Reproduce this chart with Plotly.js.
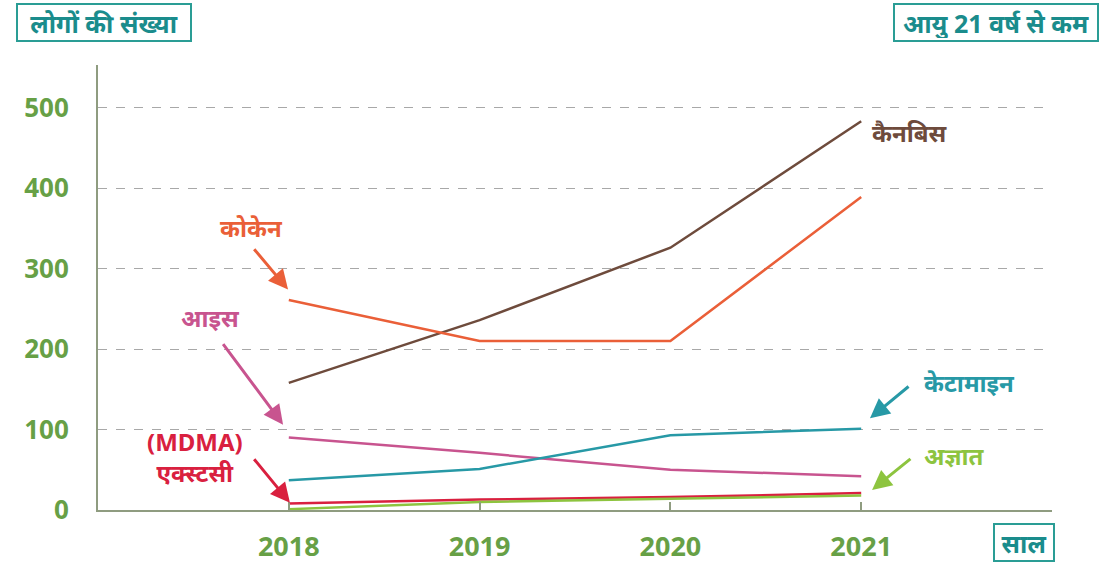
<!DOCTYPE html>
<html>
<head>
<meta charset="utf-8">
<script src="https://cdn.plot.ly/plotly-3.0.1.min.js"></script>
<style>html,body{margin:0;padding:0;background:#fff;}#chart{width:1115px;height:563px;}</style>
</head>
<body>
<div id="chart"></div>
<script>
const years = [2018, 2019, 2020, 2021];
const yearLabels = ['2018', '2019', '2020', '2021'];
const cannabis = [158, 236, 326, 483];
const cocaine = [261, 210, 210, 389];
const ice = [90, 71, 50, 42];
const ketamine = [37, 51, 93, 101];
const mdma = [8, 13, 16, 21];
const unknown = [1, 10, 14, 18];
const yTicks = [0, 100, 200, 300, 400, 500];

const names = ['कैनबिस', 'कोकेन', 'आइस', 'केटामाइन', '(MDMA)<br>एक्स्टसी', 'अज्ञात'];
const colors = ['#6e4b3c', '#ea5f38', '#c8548f', '#2799a6', '#d9203f', '#8dc43f'];
const series = [cannabis, cocaine, ice, ketamine, mdma, unknown];

const FONT = '"Noto Sans", "Open Sans", sans-serif';

const traces = series.map((s, i) => ({
  x: years, y: s, type: 'scatter', mode: 'lines',
  line: {color: colors[i], width: 2.5}, name: names[i], hoverinfo: 'skip'
}));

function label(text, x, y, color) {
  return {text: '<b>' + text + '</b>', x: x, y: y, xref: 'x', yref: 'y', showarrow: false,
    font: {family: FONT, size: 24, color: color}, xanchor: 'center', yanchor: 'middle'};
}
function arrow(tx, ty, hx, hy, color) {
  return {text: '', x: hx, y: hy, ax: tx, ay: ty, xref: 'x', yref: 'y', axref: 'x', ayref: 'y',
    showarrow: true, arrowhead: 2, arrowsize: 1.3, arrowwidth: 3, arrowcolor: color};
}
function box(text, x, y, w) {
  return {text: '<b>' + text + '</b>', x: x, y: y, xref: 'paper', yref: 'paper', showarrow: false,
    width: w, height: 31, align: 'center', valign: 'middle',
    font: {family: FONT, size: 25, color: '#1a8c8c'}, bordercolor: '#2a9d95', borderwidth: 2,
    borderpad: 2, bgcolor: '#fff', xanchor: 'center', yanchor: 'middle'};
}

const annotations = [
  box('लोगों की संख्या', 0.0068, 1.0955, 168),
  box('आयु 21 वर्ष से कम', 0.9408, 1.0955, 198),
  box('साल', 0.9706, -0.073, 54),
  label(names[0], 2021.256, 469, colors[0]),
  label(names[1], 2017.807, 351, colors[1]),
  label(names[2], 2017.587, 239, colors[2]),
  label(names[3], 2021.570, 159, colors[3]),
  label(names[4], 2017.508, 66, colors[4]),
  label(names[5], 2021.490, 68, colors[5]),
  arrow(2017.812, 326, 2017.996, 274, colors[1]),
  arrow(2017.650, 208, 2017.970, 106, colors[2]),
  arrow(2017.812, 65, 2018.006, 9, colors[4]),
  arrow(2021.256, 155, 2021.046, 114, colors[3]),
  arrow(2021.266, 65, 2021.057, 25, colors[5])
];

const layout = {
  width: 1115, height: 563,
  margin: {l: 98, r: 63, t: 65, b: 53},
  paper_bgcolor: '#ffffff', plot_bgcolor: '#ffffff',
  showlegend: false,
  font: {family: FONT},
  xaxis: {
    range: [2017, 2022], tickvals: years, ticktext: yearLabels,
    showgrid: false, zeroline: false, showline: true, linecolor: '#8f9c80', linewidth: 2,
    ticks: 'inside', ticklen: 8, tickwidth: 2, tickcolor: '#8f9c80',
    ticklabelstandoff: 12,
    tickfont: {family: FONT, size: 27, color: '#67a046', weight: 'bold'}
  },
  yaxis: {
    range: [0, 553], tickvals: yTicks, ticktext: yTicks.map(String),
    showgrid: true, gridcolor: '#a8a8a8', griddash: 'dash', gridwidth: 1,
    zeroline: false, showline: true, linecolor: '#8f9c80', linewidth: 2,
    ticks: '', ticklabelstandoff: 22,
    tickfont: {family: FONT, size: 26, color: '#67a046', weight: 'bold'}
  },
  annotations: annotations
};

Plotly.newPlot('chart', traces, layout, {displayModeBar: false, staticPlot: true});
</script>
</body>
</html>
